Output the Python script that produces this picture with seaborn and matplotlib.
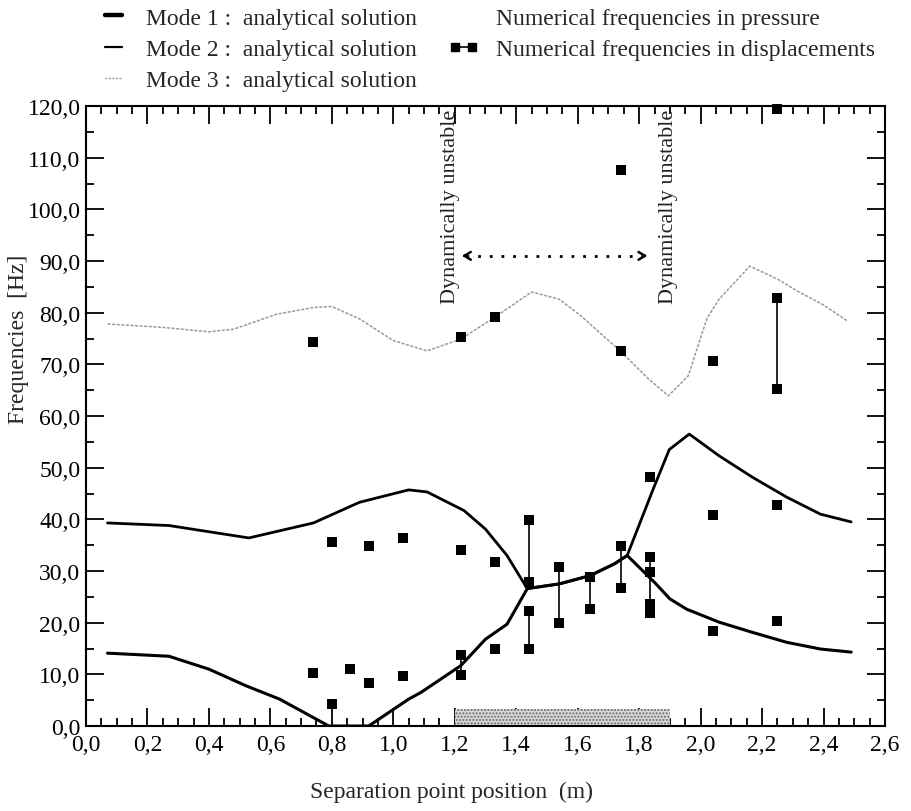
import numpy as np
import pandas as pd
import matplotlib
matplotlib.use("Agg")
import matplotlib.pyplot as plt
import matplotlib.transforms as mtransforms
import seaborn as sns
from matplotlib.lines import Line2D
from matplotlib.ticker import MultipleLocator, FuncFormatter

# ---------------- data ----------------
# Mode 1 analytical (lower branch, coalesced segment, lower right branch)
mode1_x = [0.07, 0.27, 0.40, 0.52, 0.63, 0.79, 0.92, 1.05, 1.09, 1.22, 1.30, 1.37, 1.436,
           1.54, 1.64, 1.72, 1.761, 1.85, 1.90, 1.955, 2.06, 2.17, 2.28, 2.39, 2.49]
mode1_y = [14.1, 13.5, 11.0, 7.8, 5.2, 0.0, 0.0, 5.2, 6.5, 11.7, 16.8, 19.7, 26.6,
           27.5, 29.1, 31.4, 33.0, 27.8, 24.6, 22.6, 20.1, 18.1, 16.2, 14.9, 14.3]
# Mode 2 analytical
mode2_x = [0.07, 0.27, 0.53, 0.74, 0.89, 1.05, 1.11, 1.20, 1.23, 1.30, 1.37, 1.41, 1.436,
           1.54, 1.64, 1.72, 1.761, 1.846, 1.898, 1.963, 2.06, 2.17, 2.28, 2.39, 2.49]
mode2_y = [39.3, 38.8, 36.4, 39.3, 43.3, 45.7, 45.3, 42.6, 41.7, 38.1, 33.0, 29.1, 26.6,
           27.5, 29.1, 31.4, 33.0, 45.9, 53.5, 56.5, 52.3, 48.1, 44.3, 41.0, 39.5]
# Mode 3 analytical
mode3_x = [0.07, 0.24, 0.40, 0.48, 0.62, 0.74, 0.80, 0.89, 1.00, 1.11, 1.22, 1.33, 1.45,
           1.54, 1.61, 1.74, 1.83, 1.895, 1.96, 2.02, 2.06, 2.16, 2.25, 2.32, 2.40, 2.48]
mode3_y = [77.8, 77.2, 76.3, 76.8, 79.7, 81.0, 81.2, 78.8, 74.6, 72.6, 74.9, 79.1, 84.0,
           82.6, 79.4, 72.5, 67.2, 63.9, 67.8, 78.8, 82.6, 89.0, 86.5, 84.0, 81.5, 78.3]

# Numerical frequencies (square markers)
num_x = [0.74, 0.74, 0.80, 0.80, 0.86, 0.92, 0.92, 1.03, 1.03,
         1.22, 1.22, 1.22, 1.22, 1.33, 1.33, 1.33,
         1.44, 1.44, 1.44, 1.44, 1.54, 1.54, 1.64, 1.64,
         1.74, 1.74, 1.74, 1.74,
         1.835, 1.835, 1.835, 1.835, 1.835,
         2.04, 2.04, 2.04, 2.25, 2.25, 2.25, 2.25, 2.25]
num_y = [74.3, 10.3, 35.6, 4.2, 11.0, 34.8, 8.3, 36.4, 9.6,
         75.2, 34.1, 13.7, 9.9, 79.1, 31.7, 14.9,
         39.9, 27.9, 22.2, 15.0, 30.8, 19.9, 28.8, 22.6,
         107.6, 72.5, 34.8, 26.8,
         48.1, 32.8, 29.9, 23.7, 21.8,
         70.6, 40.9, 18.4, 119.5, 82.8, 65.2, 42.8, 20.3]

# Displacement pairs joined by vertical lines
pair_x = [1.22, 1.44, 1.44, 1.54, 1.64, 1.74, 1.835, 2.25]
pair_lo = [9.9, 27.9, 15.0, 19.9, 22.6, 26.8, 21.8, 65.2]
pair_hi = [13.7, 39.9, 22.2, 30.8, 28.8, 34.8, 32.8, 82.8]

# Unstable zone band along the axis
zone_start, zone_end, zone_height = 1.2, 1.9, 3.3

# ---------------- style ----------------
sns.set_style("ticks")
plt.rcParams["font.family"] = ["Liberation Serif", "DejaVu Serif"]
plt.rcParams["hatch.color"] = "#6a6a6a"
plt.rcParams["hatch.linewidth"] = 1.0

FS = 17

fig = plt.figure(figsize=(9.12, 8.12), dpi=100)
ax = fig.add_axes([86 / 912, 1 - 727 / 812, (885 - 86) / 912, (727 - 107) / 812])

# band
ax.bar([(zone_start + zone_end) / 2], [zone_height], width=zone_end - zone_start,
       color="#d9d9d9", hatch=".....", edgecolor="#6a6a6a", linewidth=0, zorder=1)

# analytical curves
sns.lineplot(x=mode3_x, y=mode3_y, ax=ax, sort=False, estimator=None,
             color="#9a9a9a", linewidth=1.1, linestyle=(0, (2, 1)), zorder=2)
sns.lineplot(x=mode2_x, y=mode2_y, ax=ax, sort=False, estimator=None,
             color="black", linewidth=2.0, zorder=3)
sns.lineplot(x=mode1_x, y=mode1_y, ax=ax, sort=False, estimator=None,
             color="black", linewidth=2.2, zorder=3)

# pairs
ax.vlines(pair_x, pair_lo, pair_hi, colors="black", linewidth=1.2, zorder=4)

# numerical points
sns.scatterplot(x=num_x, y=num_y, ax=ax, marker="s", s=60, color="black",
                edgecolor="black", linewidth=0, zorder=5, clip_on=False)

# annotations
for xt in (1.185, 1.894):
    ax.text(xt, 119.4, "Dynamically unstable", rotation=90, ha="center", va="top",
            fontsize=16, color="#222222")
ax.plot([1.235, 1.815], [91, 91], linestyle=(0, (1, 3.2)), color="black", linewidth=2)
ax.annotate("", xy=(1.224, 91), xytext=(1.236, 91),
            arrowprops=dict(arrowstyle="->,head_length=0.45,head_width=0.28", lw=1.8,
                            color="black", shrinkA=0, shrinkB=0))
ax.annotate("", xy=(1.826, 91), xytext=(1.814, 91),
            arrowprops=dict(arrowstyle="->,head_length=0.45,head_width=0.28", lw=1.8,
                            color="black", shrinkA=0, shrinkB=0))

# axes
ax.set_xlim(0, 2.6)
ax.set_ylim(0, 120)
comma = FuncFormatter(lambda v, p: f"{v:.1f}".replace(".", ","))
ax.xaxis.set_major_locator(MultipleLocator(0.2))
ax.xaxis.set_minor_locator(MultipleLocator(0.05))
ax.yaxis.set_major_locator(MultipleLocator(10))
ax.yaxis.set_minor_locator(MultipleLocator(5))
ax.xaxis.set_major_formatter(comma)
ax.yaxis.set_major_formatter(comma)
ax.tick_params(which="both", direction="in", top=True, right=True, colors="black",
               labelsize=FS, width=1.3)
ax.tick_params(which="major", length=13)
ax.tick_params(axis="x", which="major", pad=6)
ax.tick_params(axis="y", which="major", pad=4)
ax.tick_params(which="minor", length=6)
for sp in ax.spines.values():
    sp.set_visible(True)
    sp.set_linewidth(1.5)
    sp.set_color("black")

ax.set_xlabel("Separation point position  (m)", fontsize=FS)
ax.set_ylabel("Frequencies  [Hz]", fontsize=FS)
ax.xaxis.set_label_coords((452 - 86) / 799, (727 - 782) / 620)
ax.yaxis.set_label_coords((29 - 86) / 799, (727 - 339) / 620)

# lift the y "0,0" label slightly so it does not collide with the x "0,0"
fig.canvas.draw()
ylab0 = ax.yaxis.get_majorticklabels()[0]
ylab0.set_transform(ylab0.get_transform() +
                    mtransforms.ScaledTranslation(0, 5 / 100, fig.dpi_scale_trans))

# legend
handles = [
    Line2D([], [], color="black", linewidth=3.2),
    Line2D([], [], color="black", linewidth=1.6),
    Line2D([], [], color="#9a9a9a", linewidth=1.0, linestyle=(0, (1.5, 1))),
    Line2D([], [], color="none"),
    Line2D([], [], color="black", linewidth=1.2, marker="s", markersize=6),
]
labels = [
    "Mode 1 :  analytical solution",
    "Mode 2 :  analytical solution",
    "Mode 3 :  analytical solution",
    "Numerical frequencies in pressure",
    "Numerical frequencies in displacements",
]
fig.legend(handles, labels, loc="upper left", bbox_to_anchor=(98 / 912, 1 - 8 / 812),
           ncol=2, frameon=False, fontsize=FS, borderpad=0, borderaxespad=0,
           handlelength=1.3, handletextpad=0.75, columnspacing=1.3, labelspacing=0.42,
           numpoints=2)

fig.savefig("out.png", dpi=100)
